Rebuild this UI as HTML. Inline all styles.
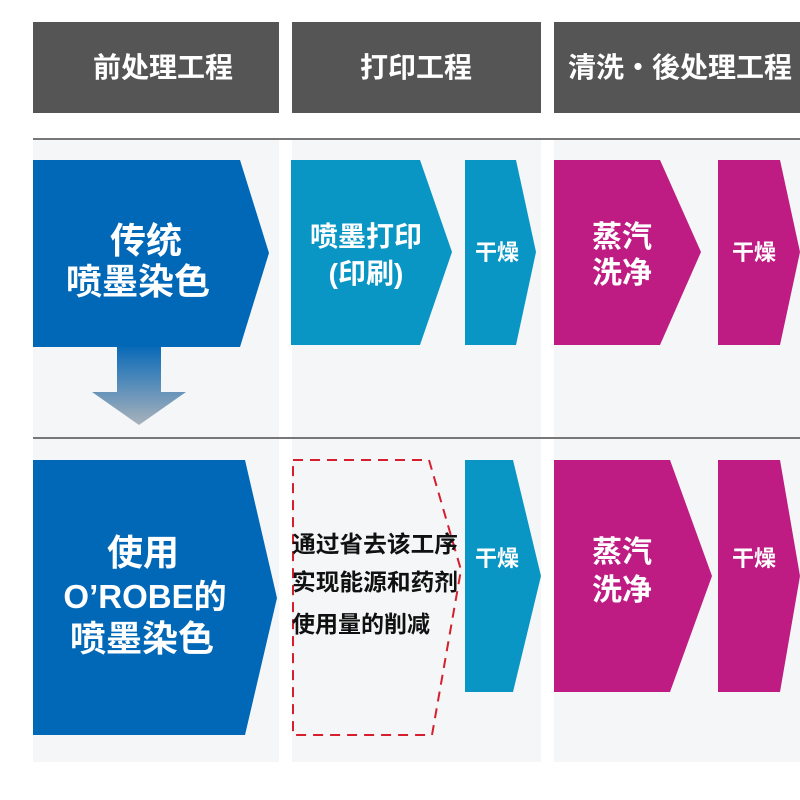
<!DOCTYPE html>
<html><head><meta charset="utf-8"><style>
html,body{margin:0;padding:0;background:#fff;width:800px;height:800px;overflow:hidden}
text{font-family:"Liberation Sans","Noto Sans CJK SC",sans-serif;font-weight:bold}
</style></head><body>
<svg width="800" height="800" viewBox="0 0 800 800" xmlns="http://www.w3.org/2000/svg">
<defs>
<linearGradient id="g" x1="0" y1="0" x2="0" y2="1">
<stop offset="0" stop-color="#0a6ab8"/><stop offset="1" stop-color="#a9b2bb"/>
</linearGradient>
</defs>
<rect x="33" y="139" width="246" height="623" fill="#f5f6f7"/>
<rect x="292" y="139" width="249" height="623" fill="#f5f6f7"/>
<rect x="554" y="139" width="246" height="623" fill="#f5f6f7"/>
<rect x="33" y="22" width="246" height="91" fill="#555556"/>
<rect x="292" y="22" width="249" height="91" fill="#555556"/>
<rect x="554" y="22" width="246" height="91" fill="#555556"/>
<g fill="#fff" font-size="28" text-anchor="middle">
<text x="163" y="77">前处理工程</text>
<text x="416" y="77">打印工程</text>
<text x="680" y="77">清洗・後处理工程</text>
</g>
<line x1="33" y1="139" x2="800" y2="139" stroke="#777" stroke-width="2"/>
<line x1="33" y1="438" x2="800" y2="438" stroke="#777" stroke-width="2"/>
<polygon points="33,160 240,160 269,253 240,347 33,347" fill="#0068b7"/>
<polygon points="117,347 161,347 161,392 186,392 139,425 92,392 117,392" fill="url(#g)"/>
<polygon points="291,160 420,160 452,252 420,345 291,345" fill="#0996c4"/>
<polygon points="465,160 516,160 536,252 516,345 465,345" fill="#0996c4"/>
<polygon points="554,160 660,160 701,252 660,345 554,345" fill="#be1c83"/>
<polygon points="718,160 780,160 800,252 780,345 718,345" fill="#be1c83"/>
<g fill="#fff" text-anchor="middle">
<text x="146" y="253" font-size="36">传统</text>
<text x="138" y="294" font-size="36">喷墨染色</text>
<text x="366" y="246" font-size="28">喷墨打印</text>
<text x="366" y="283" font-size="28">(印刷)</text>
<text x="497" y="260" font-size="22">干燥</text>
<text x="622" y="247" font-size="30">蒸汽</text>
<text x="622" y="283" font-size="30">洗净</text>
<text x="754" y="260" font-size="22">干燥</text>
</g>
<polygon points="33,460 245,460 277,598 245,735 33,735" fill="#0068b7"/>
<polygon points="293,460 429,460 461,570 432,735 293,735" fill="none" stroke="#d51f2e" stroke-width="2" stroke-dasharray="10,7"/>
<polygon points="465,460 513,460 541,576 513,692 465,692" fill="#0996c4"/>
<polygon points="554,460 670,460 712,576 670,692 554,692" fill="#be1c83"/>
<polygon points="718,460 780,460 800,576 780,692 718,692" fill="#be1c83"/>
<g fill="#fff" text-anchor="middle">
<text x="143" y="565" font-size="36">使用</text>
<text x="145" y="608" font-size="33">O’ROBE的</text>
<text x="142" y="651" font-size="36">喷墨染色</text>
<text x="497" y="566" font-size="22">干燥</text>
<text x="622" y="562" font-size="30">蒸汽</text>
<text x="622" y="600" font-size="30">洗净</text>
<text x="754" y="566" font-size="22">干燥</text>
</g>
<g fill="#111" font-size="23">
<text x="292" y="552" textLength="166" lengthAdjust="spacingAndGlyphs">通过省去该工序</text>
<text x="292" y="590" textLength="166" lengthAdjust="spacingAndGlyphs">实现能源和药剂</text>
<text x="292" y="632">使用量的削减</text>
</g>
</svg>
</body></html>
